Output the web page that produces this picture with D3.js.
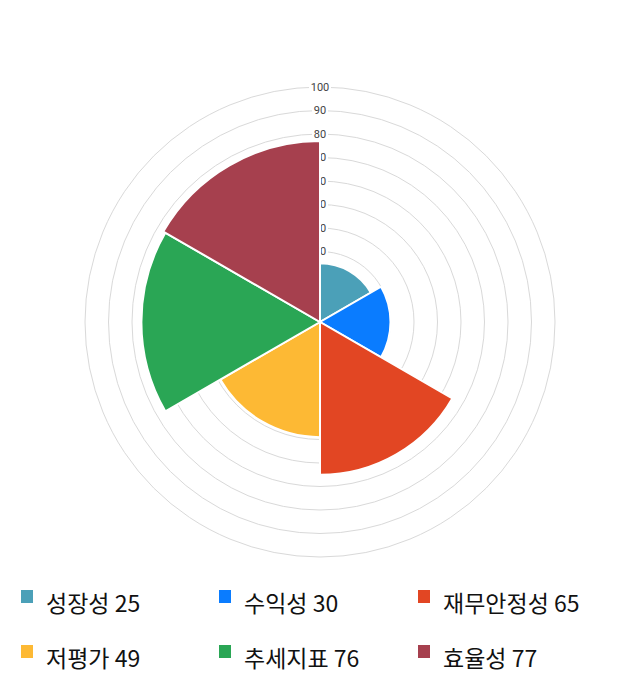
<!DOCTYPE html>
<html>
<head>
<meta charset="utf-8">
<script src="https://cdn.jsdelivr.net/npm/d3@7"></script>
<style>
  body { margin: 0; background: #fff; }
  svg { display: block; font-family: "Noto Sans CJK KR", "Noto Sans", sans-serif; }
</style>
</head>
<body>
<svg id="chart" width="640" height="700"></svg>
<script>
const categories = ['성장성', '수익성', '재무안정성', '저평가', '추세지표', '효율성'];
const values = [25, 30, 65, 49, 76, 77];
const colors = ['#4ba0b8', '#0a7cff', '#e24623', '#fdb934', '#2aa655', '#a6404e'];
const ticks = [10, 20, 30, 40, 50, 60, 70, 80, 90, 100];

const svg = d3.select('#chart');
const cx = 320, cy = 322;

const r = d3.scaleLinear().domain([0, 100]).range([0, 235]);
const angle = d3.scaleBand().domain(categories).range([0, 2 * Math.PI]);

const g = svg.append('g').attr('transform', `translate(${cx},${cy})`);

// grid rings
g.selectAll('.ring')
  .data(ticks)
  .enter()
  .append('circle')
  .attr('class', 'ring')
  .attr('r', d => r(d))
  .attr('fill', 'none')
  .attr('stroke', '#d9d9d9')
  .attr('stroke-width', 1);

// tick labels with white backdrop
const tickG = g.selectAll('.tick')
  .data(ticks)
  .enter()
  .append('g')
  .attr('class', 'tick')
  .attr('transform', d => `translate(0,${-r(d)})`);

tickG.append('rect')
  .attr('x', d => d === 100 ? -11 : -8)
  .attr('y', -7)
  .attr('width', d => d === 100 ? 22 : 16)
  .attr('height', 14)
  .attr('fill', '#fff');

tickG.append('text')
  .attr('text-anchor', 'middle')
  .attr('dy', '0.35em')
  .attr('font-size', 11)
  .attr('font-family', 'Roboto, "Noto Sans", sans-serif')
  .attr('fill', '#444')
  .text(d => d);

// slices
const arc = d3.arc()
  .innerRadius(0)
  .outerRadius(d => r(d.value))
  .startAngle(d => angle(d.cat))
  .endAngle(d => angle(d.cat) + angle.bandwidth());

const slices = categories.map((c, i) => ({ cat: c, value: values[i], color: colors[i] }));

g.selectAll('.slice')
  .data(slices)
  .enter()
  .append('path')
  .attr('class', 'slice')
  .attr('d', arc)
  .attr('fill', d => d.color)
  .attr('stroke', '#fff')
  .attr('stroke-width', 2);

// legend
const legend = svg.append('g');
const item = legend.selectAll('.item')
  .data(slices)
  .enter()
  .append('g')
  .attr('class', 'item')
  .attr('transform', (d, i) => `translate(${[21, 219, 418][i % 3]},${i < 3 ? 590 : 645})`);

item.append('rect')
  .attr('width', 12)
  .attr('height', 13)
  .attr('fill', d => d.color);

item.append('text')
  .attr('x', 25)
  .attr('y', 22)
  .attr('font-size', 23)
  .attr('fill', '#111')
  .text(d => `${d.cat} ${d.value}`);
</script>
</body>
</html>
